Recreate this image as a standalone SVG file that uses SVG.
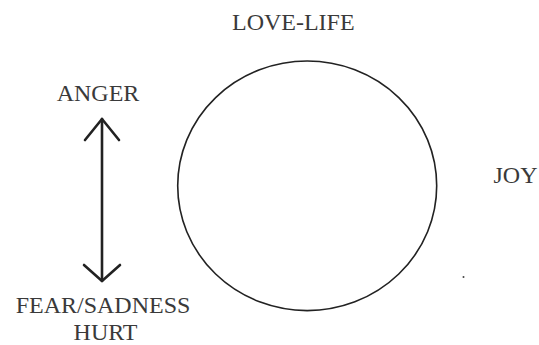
<svg xmlns="http://www.w3.org/2000/svg" width="539" height="345" viewBox="0 0 539 345">
<style>
text{font-family:"Liberation Serif","Times New Roman",serif;font-size:24px;fill:#3a3a3a;text-anchor:middle}
.arrow{stroke:#222;stroke-width:2.6;fill:none;stroke-linecap:round;stroke-linejoin:round}
</style>
<rect width="539" height="345" fill="#fff"/>
<g id="love-life"><text x="293.3" y="30">LOVE-LIFE</text></g>
<g id="anger"><text x="98" y="101">ANGER</text></g>
<g id="joy"><text x="515.5" y="183">JOY</text></g>
<g id="fear"><text x="103" y="313">FEAR/SADNESS</text><text x="105.5" y="340">HURT</text></g>
<g id="circle"><ellipse cx="307.2" cy="185.8" rx="129.5" ry="124.8" fill="none" stroke="#222" stroke-width="1.6"/></g>
<g id="connectors">
<line class="arrow" x1="102" y1="119" x2="102" y2="281"/>
<polyline class="arrow" points="85,140 102,119 119,140"/>
<polyline class="arrow" points="84,265 102,281 120,265"/>
</g>
<circle cx="463.5" cy="277" r="1" fill="#444"/>
</svg>
